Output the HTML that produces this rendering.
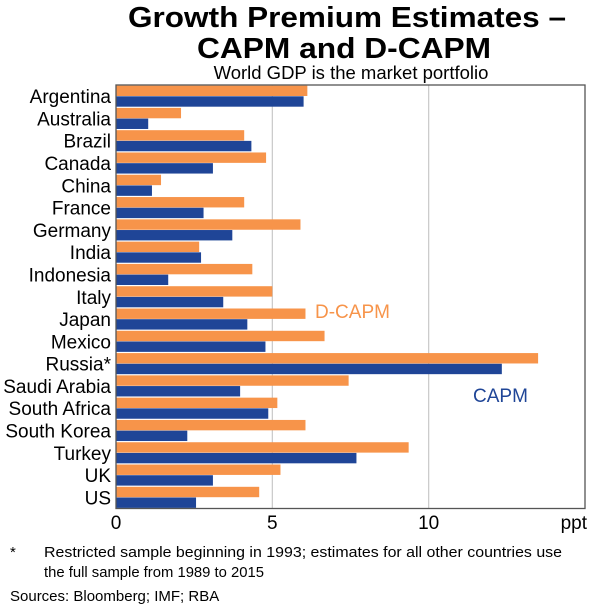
<!DOCTYPE html>
<html><head><meta charset="utf-8"><style>
body{margin:0;background:#fff;font-family:"Liberation Sans",Arial,sans-serif;}
svg text{font-family:"Liberation Sans",Arial,sans-serif;fill:#000;}
</style></head><body>
<svg width="600" height="605" viewBox="0 0 600 605">
<text x="347" y="27" font-size="29" font-weight="bold" text-anchor="middle" textLength="438" lengthAdjust="spacingAndGlyphs">Growth Premium Estimates –</text>
<text x="344" y="58" font-size="29" font-weight="bold" text-anchor="middle" textLength="294" lengthAdjust="spacingAndGlyphs">CAPM and D-CAPM</text>
<text x="351" y="79" font-size="18.5" text-anchor="middle">World GDP is the market portfolio</text>
<g id="grid"></g>
<g id="bars"></g>
<rect x="116" y="85" width="469" height="423.5" fill="none" stroke="#555" stroke-width="1.3"/>
<g id="labels"></g>
<text x="587" y="529" font-size="19" text-anchor="end">ppt</text>
<text x="315" y="318" font-size="19" style="fill:#f7944a">D-CAPM</text>
<text x="473" y="402" font-size="19" style="fill:#1f4597">CAPM</text>
<text x="10" y="557" font-size="15">*</text>
<text x="44" y="557" font-size="15" textLength="518" lengthAdjust="spacingAndGlyphs">Restricted sample beginning in 1993; estimates for all other countries use</text>
<text x="44" y="577" font-size="15" textLength="220" lengthAdjust="spacingAndGlyphs">the full sample from 1989 to 2015</text>
<text x="10" y="601" font-size="15">Sources:   Bloomberg; IMF; RBA</text>
</svg>
<script>
const categories=["Argentina","Australia","Brazil","Canada","China","France","Germany","India","Indonesia","Italy","Japan","Mexico","Russia*","Saudi Arabia","South Africa","South Korea","Turkey","UK","US"];
const dcapm=[6.12,2.08,4.1,4.8,1.44,4.1,5.9,2.66,4.36,5.0,6.06,6.67,13.5,7.44,5.16,6.06,9.36,5.26,4.58];
const capm=[6.0,1.03,4.33,3.1,1.15,2.8,3.72,2.72,1.67,3.43,4.2,4.78,12.34,3.97,4.87,2.28,7.69,3.1,2.56];
const xTicks=[0,5,10];
const NS="http://www.w3.org/2000/svg";
const x0=116,x1=585,xmax=15,yTop=85,yBot=508.5;
const X=v=>x0+(x1-x0)*v/xmax;
const rowH=(yBot-yTop)/categories.length;
const Y=i=>yTop+rowH*i;
function mk(tag,attrs,parent){const e=document.createElementNS(NS,tag);for(const k in attrs)e.setAttribute(k,attrs[k]);document.getElementById(parent).appendChild(e);return e;}
xTicks.forEach(t=>{
  if(t>0){const l=mk('line',{x1:X(t),x2:X(t),y1:yTop,y2:yBot,stroke:'#c8c8c8','stroke-width':1.2},'grid');
  
  }
  const tx=mk('text',{x:X(t),y:529,'font-size':19,'text-anchor':'middle'},'labels');
  tx.textContent=t;
  
  
});
categories.forEach((c,i)=>{
  const y=Y(i),bh=(rowH-1.5)/2;
  const a=mk('rect',{x:x0,y:y+0.6,width:X(dcapm[i])-x0,height:bh,fill:'#f7944a'},'bars');
  
  
  const b=mk('rect',{x:x0,y:y+0.9+bh,width:X(capm[i])-x0,height:bh,fill:'#1f4597'},'bars');
  
  
  const t=mk('text',{x:111,y:y+rowH/2+7,'font-size':19,'text-anchor':'end'},'labels');
  t.textContent=c;
  
  
});
</script>
</body></html>
